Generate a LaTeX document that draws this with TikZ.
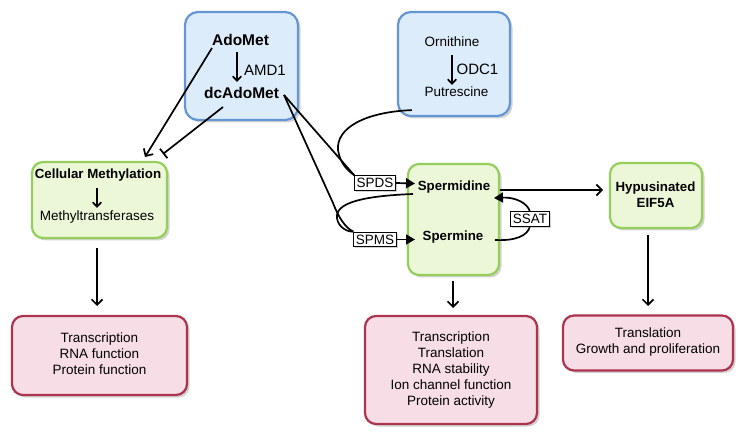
\documentclass[tikz,border=0pt]{standalone}
\usepackage{fontspec}
\setmainfont{Liberation Sans}
\usetikzlibrary{arrows.meta,shadows}
\definecolor{bfill}{RGB}{221,236,250}
\definecolor{bdraw}{RGB}{100,150,212}
\definecolor{gfill}{RGB}{236,247,216}
\definecolor{gdraw}{RGB}{150,206,92}
\definecolor{rfill}{RGB}{247,221,230}
\definecolor{rdraw}{RGB}{172,52,78}
\begin{document}
\begin{tikzpicture}[x=1pt,y=-1pt,
  shad/.style={drop shadow={shadow xshift=2.5pt,shadow yshift=-2.5pt,opacity=0.35}},
  boxbase/.style={rounded corners=11pt,line width=2.2pt,inner sep=0pt,shad},
  bluebox/.style={boxbase,draw=bdraw,fill=bfill,rounded corners=13pt},
  greenbox/.style={boxbase,draw=gdraw,fill=gfill},
  redbox/.style={boxbase,draw=rdraw,fill=rfill},
  txt/.style={font=\fontsize{13.5}{16}\selectfont,inner sep=1pt,align=center},
  btxt/.style={font=\bfseries\fontsize{13.3}{16}\selectfont,inner sep=1pt,align=center},
  bigtxt/.style={font=\bfseries\fontsize{15.5}{18}\selectfont,inner sep=1pt},
  enztxt/.style={font=\fontsize{15}{18}\selectfont,inner sep=1pt},
  lbl/.style={draw,fill=white,line width=1pt,inner xsep=2pt,inner ysep=2.6pt,font=\fontsize{13.5}{16}\selectfont,
    drop shadow={shadow xshift=1.5pt,shadow yshift=-1.5pt,opacity=0.35}},
  conn/.style={line width=1.7pt},
  barb/.style={conn,-{Straight Barb[length=5.5pt,width=11pt]}},
  sbarb/.style={conn,-{Straight Barb[length=4.5pt,width=8.5pt]}},
  tri/.style={conn,-{Triangle[length=9pt,width=10pt]}},
  inhib/.style={conn,-{Bar[width=12pt]}}
]
\useasboundingbox (0,0) rectangle (747,438);

% boxes
\node[bluebox,minimum width=113pt,minimum height=108pt] (b1) at (241.5,66) {};
\node[bluebox,minimum width=112pt,minimum height=104pt] (b2) at (454,64) {};
\node[greenbox,minimum width=135pt,minimum height=76pt] (cm) at (99.5,200) {};
\node[greenbox,minimum width=91pt,minimum height=111pt] (sp) at (453.5,219.5) {};
\node[greenbox,minimum width=92pt,minimum height=65pt] (hy) at (656,195.5) {};
\node[redbox,minimum width=175pt,minimum height=79pt] (r1) at (99.5,355.5) {};
\node[redbox,minimum width=172pt,minimum height=108pt] (r2) at (451,370) {};
\node[redbox,minimum width=170pt,minimum height=55pt] (r3) at (648,343) {};

% texts
\node[bigtxt] (ado) at (240.5,40) {AdoMet};
\node[bigtxt] (dc) at (241.5,93) {dcAdoMet};
\node[enztxt] (amd) at (265,70) {AMD1};
\node[txt] (orn) at (452,42) {Ornithine};
\node[txt] (put) at (456.5,92) {Putrescine};
\node[enztxt] (odc) at (477.5,69) {ODC1};
\node[btxt] (cmt) at (98,175) {Cellular Methylation};
\node[txt] (mt) at (97,217) {Methyltransferases};
\node[btxt] (spd) at (454,187) {Spermidine};
\node[btxt] (spm) at (453,237) {Spermine};
\node[btxt] (hyt) at (655.5,195) {Hypusinated\\EIF5A};
\node[txt] (r1t) at (99.5,353.5) {Transcription\\RNA function\\Protein function};
\node[txt] (r2t) at (451,370) {Transcription\\Translation\\RNA stability\\Ion channel function\\Protein activity};
\node[txt] (r3t) at (648,342.5) {Translation\\Growth and proliferation};

% small internal arrows
\coordinate (a1s) at (237,52);
\coordinate (a1e) at (237,82);
\draw[sbarb] (a1s) -- (a1e);
\coordinate (a2s) at (452,55);
\coordinate (a2e) at (452,85);
\draw[sbarb] (a2s) -- (a2e);
\coordinate (a3s) at (97,188);
\coordinate (a3e) at (97,208);
\draw[sbarb] (a3s) -- (a3e);

% enzyme labels
\node[lbl] (spds) at (375,183) {SPDS};
\node[lbl] (spms) at (375,239.5) {SPMS};

% connectors to cellular methylation
\coordinate (adoL) at (212,48);
\coordinate (cmA) at (145,157);
\draw[barb] (adoL) -- (cmA);
\coordinate (dcL) at (223,107);
\coordinate (cmB) at (163,154);
\draw[inhib] (dcL) -- (cmB);

% dcAdoMet to SPDS / SPMS
\coordinate (dcR) at (284,95);
\draw[conn] (dcR) -- (spds.north west);
\draw[conn] (dcR) -- (333,203) .. controls (338,216) and (345,228) .. (spms.north west);

% putrescine curve
\coordinate (putL) at ([shift={(15,-7)}]b2.south west);
\draw[conn] (putL) .. controls (365,112) and (336,128) .. (338,150)
  .. controls (340,163) and (347,170) .. (spds.north west);

% spermidine to spermine curve
\coordinate (spdL) at (413,194);
\draw[conn] (spdL) .. controls (362,196) and (335,203) .. (337,218)
  .. controls (338,227) and (347,232) .. (spms.north west);

% SPDS / SPMS arrows
\draw[tri] (spds.east) -- (415,183.5);
\draw[tri] (spms.east) -- (415,239.5);

% SSAT loop
\coordinate (spmR) at (495,240);
\coordinate (spdR) at (494,198);
\coordinate (ssatS) at (530,226);
\coordinate (ssatN) at (530,212);
\draw[conn] (spmR) .. controls (515,241) and (528,236) .. (ssatS);
\draw[tri] (ssatN) .. controls (528,203) and (515,197) .. (spdR);
\node[lbl] (ssat) at (530,219) {SSAT};

% spermidine to hypusinated
\draw[barb] (sp.east |- 0,190) -- (603,190);

% downward arrows
\draw[barb] (97,248) -- (97,306);
\draw[barb] (453,281) -- (453,308);
\draw[barb] (648,235) -- (648,306);
\end{tikzpicture}
\end{document}
